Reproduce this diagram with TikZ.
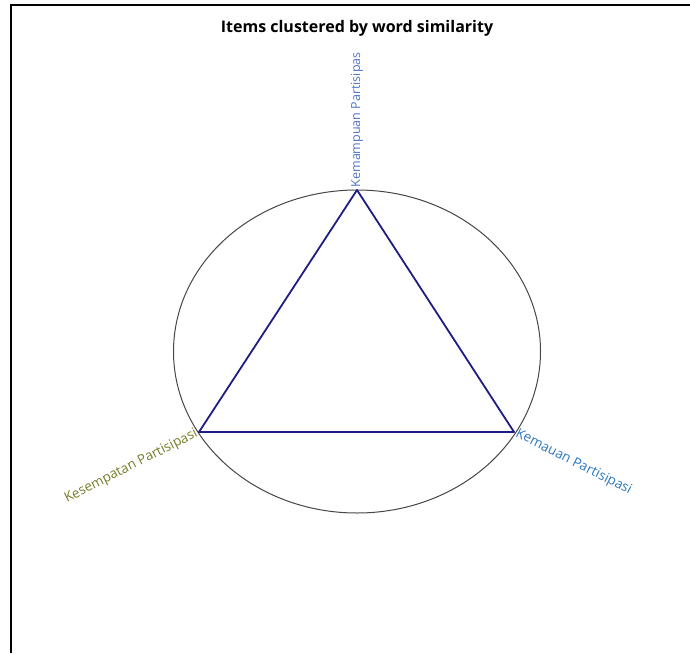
\documentclass[tikz,border=0pt]{standalone}
\usepackage{fontspec}
\setmainfont{Open Sans}
\usetikzlibrary{shapes.geometric}
\definecolor{navytri}{RGB}{30,30,130}
\definecolor{ringgray}{RGB}{70,70,70}
\definecolor{topblue}{RGB}{80,115,200}
\definecolor{rightblue}{RGB}{45,120,190}
\definecolor{olivelab}{RGB}{120,125,40}
\begin{document}
\begin{tikzpicture}[x=1pt,y=-1pt,
  frame/.style={draw=black,line width=1.3pt},
  ring/.style={draw=ringgray,line width=1pt},
  tri/.style={draw=navytri,line width=1.8pt,line join=round},
  lab/.style={font=\fontsize{13.5}{15}\selectfont,inner sep=2.5pt}]
\useasboundingbox (0,0) rectangle (690,653);
\draw[frame] (11,653) -- (11,5) -- (690,5);
\node[font=\bfseries\fontsize{16}{18}\selectfont] (title) at (357,28) {Items clustered by word similarity};
\node[ring,ellipse,minimum width=367,minimum height=323,inner sep=0] (ring) at (357,351.5) {};
\coordinate (vt) at (357,190);
\coordinate (vl) at (199,432);
\coordinate (vr) at (514,432);
\draw[tri] (vt) -- (vr) -- (vl) -- cycle;
\node[lab,font=\fontsize{12.5}{14}\selectfont,text=topblue,rotate=90,anchor=west] (lt) at (vt) {Kemampuan Partisipas};
\node[lab,text=olivelab,rotate=27,anchor=east] (ll) at (vl) {Kesempatan Partisipasi};
\node[lab,text=rightblue,rotate=-27,anchor=west] (lr) at (vr) {Kemauan Partisipasi};
\end{tikzpicture}
\end{document}
